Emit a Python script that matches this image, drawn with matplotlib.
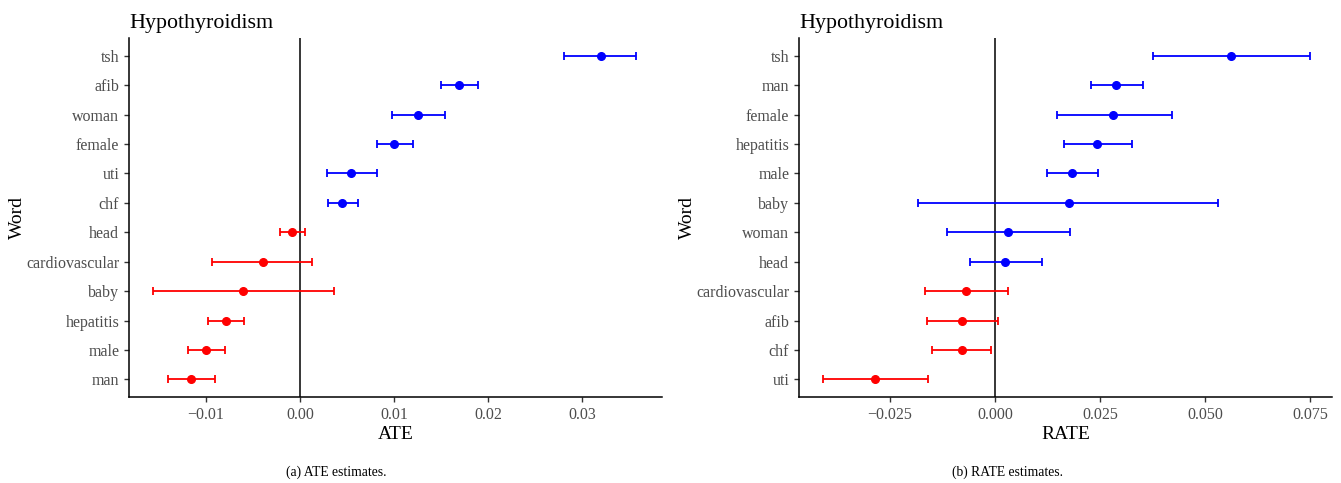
import numpy as np
import matplotlib
matplotlib.use("Agg")
import matplotlib.pyplot as plt

# =========================
# DATA
# =========================
ate_words = ["tsh", "afib", "woman", "female", "uti", "chf", "head",
             "cardiovascular", "baby", "hepatitis", "male", "man"]
ate_est = [0.0320, 0.0169, 0.01255, 0.0100, 0.0054, 0.0045, -0.0009,
           -0.0040, -0.0061, -0.0079, -0.0100, -0.0116]
ate_lo = [0.0281, 0.0150, 0.0098, 0.0082, 0.0029, 0.0030, -0.0021,
          -0.0094, -0.0157, -0.0098, -0.0119, -0.0140]
ate_hi = [0.0357, 0.0189, 0.0154, 0.0120, 0.0082, 0.0062, 0.0005,
          0.0013, 0.0036, -0.0060, -0.0080, -0.0091]
ate_ticks = [-0.01, 0.00, 0.01, 0.02, 0.03]
ate_ticklabels = ["\u22120.01", "0.00", "0.01", "0.02", "0.03"]

rate_words = ["tsh", "man", "female", "hepatitis", "male", "baby", "woman",
              "head", "cardiovascular", "afib", "chf", "uti"]
rate_est = [0.0562, 0.0288, 0.0281, 0.0243, 0.0183, 0.0176, 0.0031,
            0.0024, -0.0069, -0.0079, -0.0080, -0.0287]
rate_lo = [0.0376, 0.0229, 0.0148, 0.0164, 0.0124, -0.0183, -0.0114,
           -0.0060, -0.0167, -0.0162, -0.0150, -0.0410]
rate_hi = [0.0750, 0.0352, 0.0421, 0.0326, 0.0245, 0.0531, 0.0179,
           0.0112, 0.0031, 0.0007, -0.0010, -0.0160]
rate_ticks = [-0.025, 0.000, 0.025, 0.050, 0.075]
rate_ticklabels = ["\u22120.025", "0.000", "0.025", "0.050", "0.075"]

# =========================
# STYLE
# =========================
plt.rcParams.update({
    "font.family": ["Liberation Serif", "DejaVu Serif"],
    "mathtext.fontset": "stix",
})

fig = plt.figure(figsize=(13.41, 4.83), dpi=100)

ax_a = fig.add_axes([0.0962, 0.178, 0.3975, 0.743])
ax_b = fig.add_axes([0.5958, 0.178, 0.3975, 0.743])


def draw_panel(ax, words, est, lo, hi, xlim, ticks, ticklabels, xlabel):
    n = len(words)
    y = np.arange(n)[::-1] + 1
    est = np.array(est)
    lo = np.array(lo)
    hi = np.array(hi)

    ax.axvline(0, color="black", linewidth=1.1, zorder=1)

    for i in range(n):
        colour = "#0000FF" if est[i] > 0 else "#FF0000"
        ax.errorbar(
            est[i], y[i],
            xerr=[[est[i] - lo[i]], [hi[i] - est[i]]],
            fmt="o", color=colour, ecolor=colour,
            markersize=5.5, elinewidth=1.3, capsize=3, capthick=1.3,
            zorder=3,
        )

    ax.set_xlim(*xlim)
    ax.set_ylim(0.4, n + 0.6)
    ax.set_yticks(y)
    ax.set_yticklabels(words)
    ax.set_xticks(ticks)
    ax.set_xticklabels(ticklabels)

    ax.spines["top"].set_visible(False)
    ax.spines["right"].set_visible(False)
    for s in ("left", "bottom"):
        ax.spines[s].set_linewidth(1.1)
        ax.spines[s].set_color("black")

    ax.tick_params(axis="both", colors="#333333", labelcolor="#4D4D4D",
                   labelsize=11.5, length=3.5, width=1.0)

    ax.set_xlabel(xlabel, fontsize=14, labelpad=2)
    ax.set_ylabel("Word", fontsize=14, va="center")
    ax.yaxis.set_label_coords(-0.21, 0.5)
    ax.set_title("Hypothyroidism", loc="left", fontsize=15.8, pad=7)


draw_panel(ax_a, ate_words, ate_est, ate_lo, ate_hi,
           (-0.0182, 0.0385), ate_ticks, ate_ticklabels, "ATE")
draw_panel(ax_b, rate_words, rate_est, rate_lo, rate_hi,
           (-0.0467, 0.0802), rate_ticks, rate_ticklabels, "RATE")

fig.text(0.251, 0.022, "(a) ATE estimates.", ha="center", va="center", fontsize=9.8)
fig.text(0.751, 0.022, "(b) RATE estimates.", ha="center", va="center", fontsize=9.8)

fig.savefig("out.png", dpi=100)
